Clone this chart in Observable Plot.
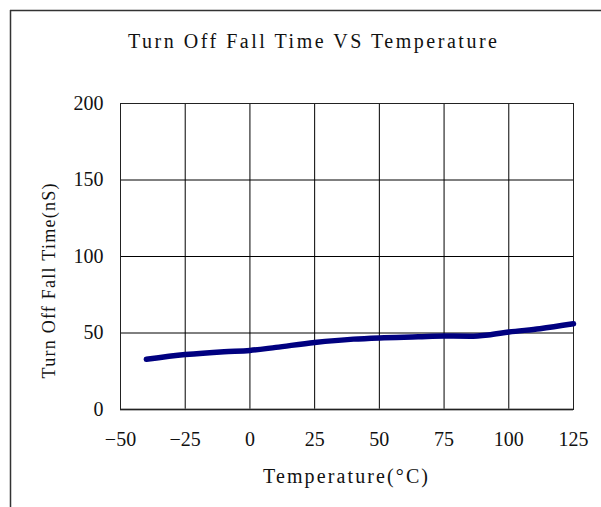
<!DOCTYPE html>
<html><head><meta charset="utf-8">
<script src="https://cdn.jsdelivr.net/npm/d3@7"></script>
<script src="https://cdn.jsdelivr.net/npm/@observablehq/plot@0.6"></script>
<style>
html,body{margin:0;padding:0;background:#fff;}
#chart{width:601px;height:507px;position:relative;}
</style></head>
<body><div id="chart"></div>
<script>
const temps = [-40, -25, -10, 0, 10, 25, 40, 50, 65, 75, 85, 92, 100, 112, 125];
const fallTime = [32.8, 35.9, 37.8, 38.6, 40.6, 43.8, 46.0, 46.8, 47.5, 48.0, 47.9, 48.7, 50.6, 52.8, 56.0];
const xTicks = [-50, -25, 0, 25, 50, 75, 100, 125];
const yTicks = [0, 50, 100, 150, 200];
const titleText = "Turn Off Fall Time VS Temperature";
const xLabel = "Temperature(\u00B0C)";
const yLabel = "Turn Off Fall Time(nS)";

const data = temps.map((t, i) => ({t, v: fallTime[i]}));
const font = "'Liberation Serif', 'DejaVu Serif', serif";

const plot = Plot.plot({
  width: 601, height: 507,
  marginLeft: 120, marginRight: 28, marginTop: 103, marginBottom: 98,
  style: {fontFamily: font, fontSize: "20px", color: "#111", background: "#fff"},
  x: {domain: [-50, 125], ticks: xTicks, label: null},
  y: {domain: [0, 200], ticks: yTicks, label: null},
  marks: [
    Plot.gridX(xTicks, {stroke: "#000", strokeOpacity: 1, strokeWidth: 1}),
    Plot.gridY(yTicks, {stroke: "#000", strokeOpacity: 1, strokeWidth: 1}),
    Plot.axisX(xTicks, {tickSize: 0, tickPadding: 22, fontSize: 20, fill: "#111"}),
    Plot.axisY(yTicks, {tickSize: 0, tickPadding: 17, fontSize: 20, fill: "#111"}),
    Plot.ruleY([0], {stroke: "#666", strokeWidth: 2}),
    Plot.frame({stroke: "#222", strokeWidth: 1}),
    Plot.line(data, {x: "t", y: "v", stroke: "#000080", strokeWidth: 5.5, curve: "monotone-x", strokeLinecap: "round"})
  ]
});
document.getElementById("chart").appendChild(plot);

const svg = d3.select(plot);
// outer frame (top and left edges)
svg.append("line").attr("x1", 10).attr("y1", 10.5).attr("x2", 601).attr("y2", 10.5)
  .attr("stroke", "#333").attr("stroke-width", 1.5);
svg.append("line").attr("x1", 10.5).attr("y1", 10).attr("x2", 10.5).attr("y2", 507)
  .attr("stroke", "#333").attr("stroke-width", 1.5);

svg.append("text").text(titleText)
  .attr("x", 312.5).attr("y", 48).attr("text-anchor", "middle")
  .attr("textLength", 369).attr("lengthAdjust", "spacing")
  .attr("font-family", font).attr("font-size", 20).attr("fill", "#111");

svg.append("text").text(xLabel)
  .attr("x", 345.5).attr("y", 483).attr("text-anchor", "middle")
  .attr("textLength", 165).attr("lengthAdjust", "spacing")
  .attr("font-family", font).attr("font-size", 20).attr("fill", "#111");

svg.append("text").text(yLabel)
  .attr("transform", "translate(55,281) rotate(-90)").attr("text-anchor", "middle")
  .attr("textLength", 195).attr("lengthAdjust", "spacing")
  .attr("font-family", font).attr("font-size", 18).attr("fill", "#111");
</script></body></html>
